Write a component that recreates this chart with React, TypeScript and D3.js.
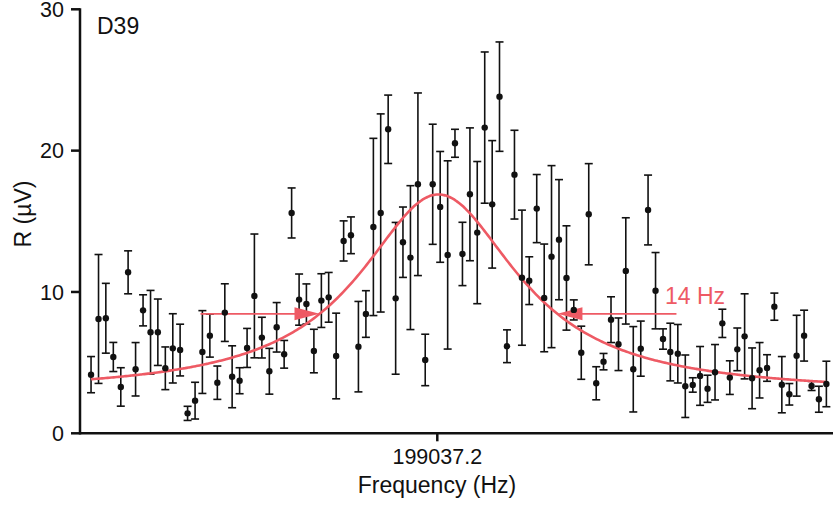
import React from "react";
import * as d3 from "d3";

// Sweep around the resonance, frequency offsets in Hz relative to the marked centre
const CENTER_FREQ = 199037.2;
const freqOffsets = [
  -20.37, -19.93, -19.5, -19.06, -18.62, -18.19, -17.75, -17.31, -16.87, -16.44,
  -16.0, -15.56, -15.13, -14.69, -14.25, -13.82, -13.38, -12.94, -12.5, -12.07,
  -11.63, -11.19, -10.76, -10.32, -9.88, -9.45, -9.01, -8.57, -8.13, -7.7,
  -7.26, -6.82, -6.39, -5.95, -5.51, -5.08, -4.64, -4.2, -3.76, -3.33,
  -2.89, -2.45, -2.02, -1.58, -1.14, -0.71, -0.27, 0.17, 0.61, 1.04,
  1.48, 1.92, 2.35, 2.79, 3.23, 3.66, 4.1, 4.54, 4.98, 5.41,
  5.85, 6.29, 6.72, 7.16, 7.6, 8.03, 8.47, 8.91, 9.35, 9.78,
  10.22, 10.66, 11.09, 11.53, 11.97, 12.4, 12.84, 13.28, 13.71, 14.15,
  14.59, 15.03, 15.46, 15.9, 16.34, 16.77, 17.21, 17.65, 18.08, 18.52,
  18.96, 19.4, 19.83, 20.27, 20.71, 21.14, 21.58, 22.02, 22.45, 22.89,
];

// Lock-in magnitude R (µV)
const rValues = [
  4.15, 8.09, 8.14, 5.4, 3.28, 11.39, 4.53, 8.7, 7.15, 7.15,
  4.6, 6.01, 5.89, 1.41, 2.31, 5.75, 6.91, 3.58, 8.54, 4.0,
  3.72, 6.04, 9.72, 6.77, 4.39, 7.5, 5.59, 15.59, 9.46, 9.15,
  5.82, 9.39, 9.62, 5.47, 13.61, 14.01, 6.13, 8.44, 14.6, 15.59,
  21.51, 9.55, 13.52, 12.43, 17.62, 5.19, 17.62, 16.02, 12.62, 20.52,
  12.69, 16.91, 14.2, 21.63, 16.2, 23.82, 6.16, 18.3, 11.01, 10.8,
  15.9, 9.58, 12.5, 13.7, 10.99, 8.73, 5.7, 15.5, 3.54, 5.07,
  8.04, 6.3, 11.49, 4.53, 5.99, 15.8, 10.09, 6.67, 5.75, 5.63,
  3.33, 3.42, 4.06, 3.15, 4.32, 7.78, 3.94, 5.94, 6.86, 3.89,
  4.46, 4.62, 8.96, 3.44, 2.76, 5.49, 6.91, 3.35, 2.41, 3.49,
];

// Symmetric uncertainty on R (µV)
const rErrors = [
  1.28, 4.56, 2.47, 1.03, 1.36, 1.52, 1.89, 1.1, 2.96, 2.35,
  1.51, 2.45, 1.83, 0.5, 1.3, 2.93, 1.52, 1.18, 2.04, 2.19,
  0.92, 1.38, 4.38, 1.44, 1.62, 1.75, 0.98, 1.77, 1.81, 1.42,
  1.54, 1.9, 1.76, 3.03, 1.42, 1.3, 3.2, 1.65, 6.27, 7.01,
  2.42, 5.37, 2.49, 5.09, 6.46, 1.82, 4.25, 3.92, 6.66, 0.99,
  2.24, 4.7, 5.03, 5.35, 4.51, 3.87, 1.16, 3.14, 4.78, 1.69,
  2.41, 3.81, 6.44, 4.25, 3.69, 0.71, 1.88, 3.58, 1.17, 0.58,
  1.62, 1.86, 3.76, 3.02, 1.95, 2.47, 2.7, 0.72, 2.04, 2.07,
  2.21, 0.51, 2.08, 0.96, 1.96, 1.0, 1.19, 1.51, 3.01, 2.15,
  1.96, 0.94, 0.96, 1.99, 0.76, 2.86, 1.8, 0.32, 0.92, 1.61,
];

const yTicks = [0, 10, 20, 30];
const xTicks = [CENTER_FREQ];

// Lorentzian fit with constant background
const FIT_CENTER = 199037.27;
const FIT_BACKGROUND = 2.8;
const FIT_AMPLITUDE = 14.1;
const FIT_HWHM = 5.72;
// Full width at half of the peak value
const WIDTH_HZ = 14;

const lorentz = (f: number) =>
  FIT_BACKGROUND + FIT_AMPLITUDE / (1 + ((f - FIT_CENTER) / FIT_HWHM) ** 2);

const W = 833;
const H = 506;
const FONT = "'Liberation Sans', Arial, Helvetica, sans-serif";
const RED = "#ee5a64";
const INK = "#111";

export default function App() {
  const x = d3
    .scaleLinear()
    .domain([CENTER_FREQ - 21.02, CENTER_FREQ + 23.28])
    .range([80, 833]);
  const y = d3.scaleLinear().domain([0, 30]).range([433.3, 9.3]);

  const points = freqOffsets.map((d, i) => ({
    f: CENTER_FREQ + d,
    r: rValues[i],
    e: rErrors[i],
  }));

  const fMin = points[0].f;
  const fMax = points[points.length - 1].f;
  const curveFreqs = d3.range(0, 401).map((k) => fMin + ((fMax - fMin) * k) / 400);
  const line = d3
    .line<number>()
    .x((f) => x(f))
    .y((f) => y(lorentz(f)))
    .curve(d3.curveBasis);

  const halfLevel = (FIT_BACKGROUND + FIT_AMPLITUDE) / 2;
  const arrowY = y(halfLevel);
  const leftTip = x(FIT_CENTER - WIDTH_HZ / 2);
  const rightTip = x(FIT_CENTER + WIDTH_HZ / 2);
  const leftTail = x(FIT_CENTER - WIDTH_HZ);
  const rightTail = x(FIT_CENTER + WIDTH_HZ);
  const headLen = 25;
  const headHalf = 6.5;

  const [x0, x1] = x.range();
  const [yBottom, yTop] = y.range();

  return (
    <svg
      width={W}
      height={H}
      style={{ position: "absolute", left: 0, top: 0, background: "#fff" }}
      fontFamily={FONT}
    >
      {/* error bars */}
      <g stroke={INK} strokeWidth={1.6} fill="none">
        {points.map((p, i) => {
          const cx = x(p.f);
          const y1 = y(p.r + p.e);
          const y2 = y(p.r - p.e);
          return (
            <g key={i}>
              <line x1={cx} x2={cx} y1={y1} y2={y2} />
              <line x1={cx - 4} x2={cx + 4} y1={y1} y2={y1} />
              <line x1={cx - 4} x2={cx + 4} y1={y2} y2={y2} />
            </g>
          );
        })}
      </g>

      {/* fitted Lorentzian */}
      <path d={line(curveFreqs) || ""} fill="none" stroke={RED} strokeWidth={2.6} />

      {/* width arrows */}
      <g stroke={RED} strokeWidth={1.6} fill={RED}>
        <line x1={leftTail} x2={leftTip - headLen + 2} y1={arrowY} y2={arrowY} />
        <path
          d={`M${leftTip},${arrowY} L${leftTip - headLen},${arrowY - headHalf} L${leftTip - headLen},${arrowY + headHalf} Z`}
          stroke="none"
        />
        <line x1={rightTail} x2={rightTip + headLen - 2} y1={arrowY} y2={arrowY} />
        <path
          d={`M${rightTip},${arrowY} L${rightTip + headLen},${arrowY - headHalf} L${rightTip + headLen},${arrowY + headHalf} Z`}
          stroke="none"
        />
      </g>
      <text x={665} y={304} fontSize={23} fill={RED}>
        {`${WIDTH_HZ} Hz`}
      </text>

      {/* data points */}
      <g fill={INK}>
        {points.map((p, i) => (
          <circle key={i} cx={x(p.f)} cy={y(p.r)} r={3.2} />
        ))}
      </g>

      {/* axes */}
      <g stroke={INK} strokeWidth={2.5} fill="none">
        <line x1={x0} x2={x1 + 5} y1={yBottom} y2={yBottom} />
        <line x1={x0} x2={x0} y1={yTop - 1} y2={yBottom + 1.2} />
        {yTicks.map((t) => (
          <line key={t} x1={x0 - 9} x2={x0} y1={y(t)} y2={y(t)} />
        ))}
        {xTicks.map((t) => (
          <line key={t} x1={x(t)} x2={x(t)} y1={yBottom} y2={yBottom + 8} />
        ))}
      </g>
      <g fontSize={21.5} fill={INK}>
        {yTicks.map((t) => (
          <text key={t} x={64} y={y(t) + 7.8} textAnchor="end">
            {t}
          </text>
        ))}
        {xTicks.map((t) => (
          <text key={t} x={x(t)} y={464} textAnchor="middle">
            {t.toFixed(1)}
          </text>
        ))}
      </g>
      <text x={437} y={493} fontSize={23} textAnchor="middle" fill={INK}>
        Frequency (Hz)
      </text>
      <text
        transform="translate(31,214) rotate(-90)"
        fontSize={23}
        textAnchor="middle"
        fill={INK}
      >
        R (µV)
      </text>
      <text x={97} y={34} fontSize={23} fill={INK}>
        D39
      </text>
    </svg>
  );
}
